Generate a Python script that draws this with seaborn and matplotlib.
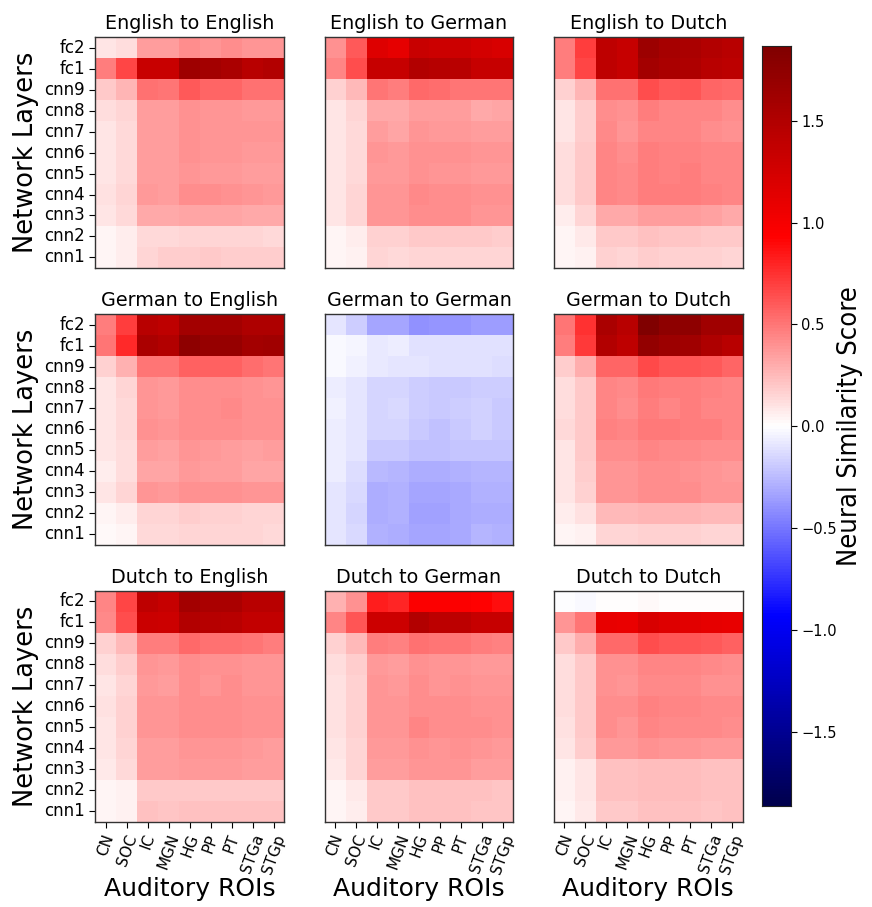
import numpy as np
import pandas as pd
import seaborn as sns
import matplotlib.pyplot as plt

layers = ['fc2', 'fc1', 'cnn9', 'cnn8', 'cnn7', 'cnn6', 'cnn5', 'cnn4', 'cnn3', 'cnn2', 'cnn1']
rois = ['CN', 'SOC', 'IC', 'MGN', 'HG', 'PP', 'PT', 'STGa', 'STGp']
languages = ['English', 'German', 'Dutch']

# rows = layers (fc2 ... cnn1), cols = rois
eng_eng = [
    [0.09, 0.12, 0.35, 0.35, 0.42, 0.38, 0.42, 0.38, 0.38],
    [0.47, 0.68, 1.34, 1.34, 1.64, 1.60, 1.55, 1.45, 1.50],
    [0.20, 0.27, 0.52, 0.50, 0.60, 0.56, 0.56, 0.52, 0.52],
    [0.12, 0.15, 0.35, 0.35, 0.40, 0.38, 0.38, 0.37, 0.37],
    [0.10, 0.14, 0.36, 0.35, 0.40, 0.39, 0.39, 0.38, 0.38],
    [0.10, 0.14, 0.36, 0.36, 0.40, 0.38, 0.39, 0.37, 0.37],
    [0.10, 0.14, 0.35, 0.35, 0.38, 0.37, 0.37, 0.36, 0.36],
    [0.11, 0.16, 0.37, 0.36, 0.42, 0.41, 0.40, 0.39, 0.37],
    [0.09, 0.14, 0.32, 0.32, 0.33, 0.33, 0.33, 0.32, 0.32],
    [0.04, 0.06, 0.14, 0.14, 0.15, 0.15, 0.15, 0.15, 0.14],
    [0.04, 0.06, 0.16, 0.18, 0.18, 0.19, 0.18, 0.18, 0.18],
]
eng_ger = [
    [0.40, 0.60, 1.17, 1.12, 1.34, 1.30, 1.30, 1.25, 1.22],
    [0.45, 0.65, 1.35, 1.35, 1.50, 1.47, 1.45, 1.35, 1.35],
    [0.17, 0.25, 0.50, 0.48, 0.55, 0.53, 0.50, 0.50, 0.50],
    [0.10, 0.15, 0.32, 0.32, 0.36, 0.35, 0.35, 0.32, 0.33],
    [0.09, 0.14, 0.35, 0.33, 0.38, 0.37, 0.37, 0.35, 0.35],
    [0.09, 0.14, 0.38, 0.37, 0.40, 0.40, 0.40, 0.38, 0.38],
    [0.09, 0.14, 0.37, 0.37, 0.40, 0.39, 0.39, 0.37, 0.37],
    [0.10, 0.15, 0.39, 0.39, 0.43, 0.42, 0.42, 0.40, 0.40],
    [0.10, 0.16, 0.38, 0.38, 0.42, 0.41, 0.41, 0.38, 0.38],
    [0.04, 0.06, 0.17, 0.17, 0.19, 0.19, 0.19, 0.19, 0.18],
    [0.03, 0.05, 0.15, 0.14, 0.15, 0.15, 0.15, 0.15, 0.15],
]
eng_dut = [
    [0.47, 0.70, 1.40, 1.35, 1.65, 1.58, 1.55, 1.50, 1.45],
    [0.47, 0.68, 1.40, 1.35, 1.60, 1.55, 1.52, 1.45, 1.42],
    [0.17, 0.27, 0.52, 0.52, 0.65, 0.60, 0.62, 0.56, 0.55],
    [0.10, 0.18, 0.42, 0.40, 0.47, 0.44, 0.45, 0.44, 0.42],
    [0.10, 0.18, 0.43, 0.38, 0.44, 0.44, 0.44, 0.42, 0.40],
    [0.12, 0.20, 0.44, 0.42, 0.47, 0.46, 0.46, 0.45, 0.44],
    [0.12, 0.20, 0.44, 0.43, 0.48, 0.46, 0.47, 0.45, 0.45],
    [0.12, 0.20, 0.44, 0.43, 0.48, 0.47, 0.48, 0.46, 0.45],
    [0.06, 0.15, 0.32, 0.32, 0.35, 0.35, 0.35, 0.34, 0.32],
    [0.04, 0.08, 0.20, 0.20, 0.22, 0.21, 0.21, 0.20, 0.20],
    [0.03, 0.05, 0.17, 0.16, 0.18, 0.17, 0.17, 0.17, 0.16],
]
ger_eng = [
    [0.47, 0.70, 1.45, 1.40, 1.60, 1.60, 1.60, 1.52, 1.52],
    [0.50, 0.78, 1.55, 1.50, 1.75, 1.70, 1.70, 1.60, 1.62],
    [0.17, 0.28, 0.50, 0.50, 0.58, 0.57, 0.57, 0.53, 0.50],
    [0.10, 0.15, 0.38, 0.37, 0.42, 0.42, 0.42, 0.40, 0.38],
    [0.10, 0.14, 0.38, 0.37, 0.42, 0.41, 0.43, 0.40, 0.40],
    [0.10, 0.14, 0.40, 0.38, 0.42, 0.42, 0.42, 0.40, 0.40],
    [0.09, 0.13, 0.35, 0.34, 0.38, 0.37, 0.36, 0.34, 0.35],
    [0.07, 0.12, 0.33, 0.33, 0.37, 0.35, 0.35, 0.33, 0.33],
    [0.10, 0.15, 0.38, 0.37, 0.40, 0.40, 0.40, 0.38, 0.38],
    [0.03, 0.06, 0.16, 0.15, 0.18, 0.17, 0.17, 0.16, 0.16],
    [0.02, 0.03, 0.14, 0.14, 0.15, 0.15, 0.15, 0.15, 0.14],
]
ger_ger = [
    [-0.10, -0.18, -0.33, -0.33, -0.40, -0.38, -0.38, -0.35, -0.35],
    [-0.02, -0.04, -0.08, -0.06, -0.11, -0.11, -0.11, -0.11, -0.11],
    [-0.02, -0.05, -0.08, -0.09, -0.10, -0.11, -0.11, -0.11, -0.12],
    [-0.06, -0.10, -0.16, -0.16, -0.18, -0.20, -0.19, -0.18, -0.18],
    [-0.05, -0.09, -0.15, -0.14, -0.18, -0.20, -0.18, -0.17, -0.19],
    [-0.06, -0.10, -0.16, -0.16, -0.20, -0.22, -0.19, -0.17, -0.20],
    [-0.06, -0.10, -0.20, -0.19, -0.23, -0.23, -0.21, -0.21, -0.21],
    [-0.06, -0.12, -0.26, -0.27, -0.30, -0.30, -0.29, -0.27, -0.27],
    [-0.09, -0.14, -0.30, -0.29, -0.33, -0.33, -0.31, -0.29, -0.29],
    [-0.09, -0.15, -0.30, -0.29, -0.34, -0.34, -0.32, -0.30, -0.30],
    [-0.09, -0.14, -0.29, -0.30, -0.33, -0.33, -0.32, -0.27, -0.28],
]
ger_dut = [
    [0.50, 0.75, 1.55, 1.45, 1.86, 1.75, 1.75, 1.62, 1.62],
    [0.48, 0.72, 1.50, 1.40, 1.72, 1.65, 1.63, 1.52, 1.45],
    [0.18, 0.30, 0.56, 0.56, 0.66, 0.62, 0.62, 0.60, 0.56],
    [0.13, 0.20, 0.45, 0.43, 0.49, 0.48, 0.48, 0.46, 0.45],
    [0.12, 0.20, 0.44, 0.41, 0.48, 0.44, 0.47, 0.45, 0.44],
    [0.14, 0.20, 0.46, 0.45, 0.49, 0.49, 0.48, 0.48, 0.45],
    [0.10, 0.20, 0.42, 0.41, 0.44, 0.43, 0.43, 0.42, 0.41],
    [0.10, 0.18, 0.38, 0.38, 0.42, 0.41, 0.40, 0.39, 0.37],
    [0.10, 0.17, 0.38, 0.38, 0.42, 0.41, 0.41, 0.39, 0.38],
    [0.06, 0.11, 0.26, 0.25, 0.27, 0.27, 0.27, 0.26, 0.26],
    [0.03, 0.05, 0.15, 0.16, 0.17, 0.17, 0.17, 0.16, 0.16],
]
dut_eng = [
    [0.45, 0.68, 1.40, 1.35, 1.60, 1.55, 1.55, 1.45, 1.45],
    [0.43, 0.65, 1.32, 1.30, 1.50, 1.47, 1.45, 1.38, 1.38],
    [0.17, 0.25, 0.48, 0.47, 0.55, 0.52, 0.52, 0.50, 0.48],
    [0.12, 0.18, 0.38, 0.37, 0.42, 0.40, 0.40, 0.39, 0.38],
    [0.10, 0.16, 0.37, 0.36, 0.41, 0.39, 0.41, 0.39, 0.38],
    [0.11, 0.17, 0.39, 0.38, 0.42, 0.42, 0.42, 0.40, 0.40],
    [0.10, 0.17, 0.39, 0.38, 0.42, 0.41, 0.42, 0.40, 0.40],
    [0.10, 0.16, 0.36, 0.35, 0.39, 0.38, 0.38, 0.37, 0.36],
    [0.08, 0.14, 0.35, 0.35, 0.37, 0.37, 0.37, 0.36, 0.35],
    [0.03, 0.05, 0.20, 0.19, 0.20, 0.20, 0.20, 0.20, 0.19],
    [0.03, 0.05, 0.22, 0.21, 0.23, 0.23, 0.23, 0.22, 0.22],
]
dut_ger = [
    [0.28, 0.40, 0.83, 0.80, 0.95, 0.95, 0.95, 0.93, 0.88],
    [0.45, 0.62, 1.30, 1.30, 1.50, 1.42, 1.42, 1.35, 1.35],
    [0.17, 0.26, 0.48, 0.46, 0.52, 0.50, 0.50, 0.48, 0.46],
    [0.12, 0.18, 0.37, 0.36, 0.40, 0.39, 0.39, 0.37, 0.37],
    [0.11, 0.17, 0.38, 0.37, 0.41, 0.39, 0.40, 0.39, 0.38],
    [0.11, 0.17, 0.39, 0.39, 0.42, 0.42, 0.42, 0.40, 0.40],
    [0.11, 0.17, 0.39, 0.39, 0.44, 0.42, 0.42, 0.41, 0.40],
    [0.09, 0.16, 0.37, 0.37, 0.40, 0.39, 0.40, 0.38, 0.37],
    [0.08, 0.15, 0.36, 0.36, 0.38, 0.38, 0.38, 0.36, 0.35],
    [0.04, 0.08, 0.20, 0.20, 0.22, 0.22, 0.22, 0.22, 0.21],
    [0.03, 0.07, 0.20, 0.20, 0.22, 0.22, 0.22, 0.21, 0.21],
]
dut_dut = [
    [-0.01, -0.02, 0.00, 0.00, 0.02, 0.01, 0.00, 0.00, 0.00],
    [0.38, 0.50, 1.10, 1.08, 1.22, 1.18, 1.15, 1.12, 1.10],
    [0.20, 0.30, 0.55, 0.55, 0.65, 0.62, 0.62, 0.60, 0.58],
    [0.12, 0.20, 0.40, 0.40, 0.45, 0.44, 0.44, 0.43, 0.42],
    [0.12, 0.20, 0.40, 0.38, 0.43, 0.43, 0.43, 0.40, 0.40],
    [0.12, 0.20, 0.42, 0.41, 0.46, 0.44, 0.45, 0.43, 0.43],
    [0.11, 0.19, 0.41, 0.39, 0.45, 0.43, 0.43, 0.43, 0.41],
    [0.10, 0.18, 0.37, 0.37, 0.40, 0.38, 0.38, 0.37, 0.37],
    [0.05, 0.10, 0.22, 0.22, 0.24, 0.24, 0.24, 0.23, 0.23],
    [0.05, 0.10, 0.23, 0.22, 0.24, 0.24, 0.24, 0.23, 0.23],
    [0.04, 0.08, 0.20, 0.20, 0.22, 0.22, 0.22, 0.21, 0.22],
]

grids = [[eng_eng, eng_ger, eng_dut],
         [ger_eng, ger_ger, ger_dut],
         [dut_eng, dut_ger, dut_dut]]
vmax = 1.866

fig, axes = plt.subplots(3, 3, figsize=(8.72, 9.07), dpi=100)
plt.subplots_adjust(left=0.109, right=0.852, top=0.959, bottom=0.094,
                    wspace=0.21, hspace=0.2)
cax = fig.add_axes([0.874, 0.111, 0.033, 0.838])

for i in range(3):
    for j in range(3):
        ax = axes[i, j]
        df = pd.DataFrame(grids[i][j], index=layers, columns=rois)
        first = (i == 0 and j == 0)
        sns.heatmap(df, ax=ax, cmap='seismic', vmin=-vmax, vmax=vmax,
                    square=True, cbar=first, cbar_ax=cax if first else None,
                    xticklabels=(i == 2), yticklabels=(j == 0))
        for s in ax.spines.values():
            s.set_visible(True)
            s.set_color('#333333')
            s.set_linewidth(1.0)
        ax.set_title(f'{languages[i]} to {languages[j]}', fontsize=13.8)
        if j == 0:
            ax.set_ylabel('Network Layers', fontsize=18.5)
            ax.tick_params(axis='y', labelsize=12, rotation=0, length=4)
        else:
            ax.set_ylabel('')
            ax.tick_params(axis='y', left=False)
        if i == 2:
            ax.set_xlabel('Auditory ROIs', fontsize=18, labelpad=1)
            ax.tick_params(axis='x', labelsize=11, rotation=70, length=4)
        else:
            ax.set_xlabel('')
            ax.tick_params(axis='x', bottom=False)

cax.tick_params(labelsize=10.5, length=4)
cax.set_yticks([-1.5, -1.0, -0.5, 0.0, 0.5, 1.0, 1.5])
cax.set_yticklabels(['\u22121.5', '\u22121.0', '\u22120.5', '0.0', '0.5', '1.0', '1.5'])
for s in cax.spines.values():
    s.set_visible(True)
    s.set_color('#222222')
cax.set_ylabel('Neural Similarity Score', fontsize=19.5, family='DejaVu Sans',
               fontstretch='condensed', labelpad=0)

plt.savefig('out.png', dpi=100)
